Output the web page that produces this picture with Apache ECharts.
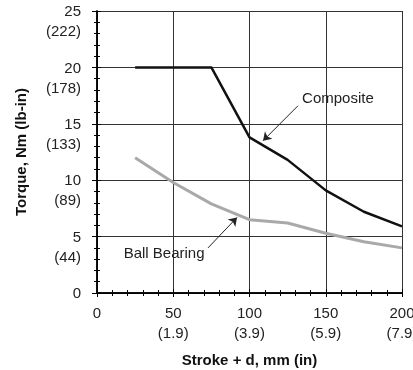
<!DOCTYPE html>
<html>
<head>
<meta charset="utf-8">
<script src="https://cdn.jsdelivr.net/npm/echarts@6/dist/echarts.min.js"></script>
<style>
  html, body { margin: 0; padding: 0; background: #fff; }
  #chart { width: 413px; height: 370px; }
</style>
</head>
<body>
<div id="chart"></div>
<script>
var strokeMm = [25, 50, 75, 100, 125, 150, 175, 200];
var composite = [20, 20, 20, 13.8, 11.8, 9.1, 7.2, 5.9];
var ballBearing = [12.0, 9.8, 7.9, 6.5, 6.2, 5.3, 4.55, 4.0];

var xTickMm = [0, 50, 100, 150, 200];
var xTickIn = ["", "(1.9)", "(3.9)", "(5.9)", "(7.9)"];
var yTickNm = [0, 5, 10, 15, 20, 25];
var yTickLbIn = ["", "(44)", "(89)", "(133)", "(178)", "(222)"];

var FONT = "Liberation Sans";

function pairs(xs, ys) {
    var out = [];
    for (var i = 0; i < xs.length; i++) out.push([xs[i], ys[i]]);
    return out;
}

function xLabel(v) {
    var i = xTickMm.indexOf(v);
    if (i < 0) return "";
    return xTickIn[i] ? v + "\n" + xTickIn[i] : String(v);
}

// first line sits on the tick, the inch value hangs below it
function yLabel(v) {
    var i = yTickNm.indexOf(v);
    if (i < 0) return "";
    return yTickLbIn[i] ? "{a|" + v + "}\n{b|" + yTickLbIn[i] + "}" : "{a|" + v + "}";
}

var chart = echarts.init(document.getElementById("chart"), null, { renderer: "canvas" });

var baseX = {
    type: "value", min: 0, max: 200, interval: 50,
    axisLine: { lineStyle: { color: "#000", width: 1.5 } },
    minorTick: { show: true, splitNumber: 5, length: 3, lineStyle: { color: "#000", width: 1 } },
    minorSplitLine: { show: false }
};
var baseY = {
    type: "value", min: 0, max: 25, interval: 5,
    axisLine: { lineStyle: { color: "#000", width: 1.5 } },
    minorTick: { show: true, splitNumber: 5, length: 3, lineStyle: { color: "#000", width: 1 } },
    minorSplitLine: { show: false }
};

var option = {
    animation: false,
    backgroundColor: "#fff",
    grid: { left: 97, right: 11, top: 11, bottom: 77, containLabel: false, outerBoundsMode: "none" },
    xAxis: [
        Object.assign({}, baseX, {
            name: "Stroke + d, mm (in)",
            nameLocation: "middle",
            nameGap: 60,
            nameTextStyle: { fontFamily: FONT, fontSize: 15, fontWeight: "bold", color: "#111" },
            axisTick: { show: true, length: 4, lineStyle: { color: "#000", width: 1 } },
            axisLabel: {
                formatter: xLabel, fontFamily: FONT, fontSize: 15, color: "#222",
                lineHeight: 20, margin: 11, showMaxLabel: true, showMinLabel: true
            },
            splitLine: { show: true, showMaxLine: true, lineStyle: { color: "#333", width: 1 } }
        }),
        Object.assign({}, baseX, {
            position: "bottom",
            axisTick: { show: true, inside: true, length: 4, lineStyle: { color: "#000", width: 1 } },
            axisLabel: { show: false },
            splitLine: { show: false }
        })
    ],
    yAxis: [
        Object.assign({}, baseY, {
            name: "Torque, Nm (lb-in)",
            nameLocation: "middle",
            nameGap: 68,
            nameTextStyle: { fontFamily: FONT, fontSize: 15, fontWeight: "bold", color: "#111" },
            axisTick: { show: true, length: 5, lineStyle: { color: "#000", width: 1 } },
            axisLabel: {
                formatter: yLabel, fontFamily: FONT, fontSize: 15, color: "#222",
                margin: 16, align: "right", verticalAlign: "top",
                showMaxLabel: true, showMinLabel: true,
                rich: {
                    a: { fontFamily: FONT, fontSize: 15, color: "#222", lineHeight: 2, align: "right" },
                    b: { fontFamily: FONT, fontSize: 15, color: "#222", lineHeight: 38, align: "right" }
                }
            },
            splitLine: { show: true, showMaxLine: true, lineStyle: { color: "#333", width: 1 } }
        }),
        Object.assign({}, baseY, {
            position: "left",
            axisTick: { show: true, inside: true, length: 4, lineStyle: { color: "#000", width: 1 } },
            axisLabel: { show: false },
            splitLine: { show: false }
        })
    ],
    series: [
        {
            name: "Ball Bearing",
            type: "line",
            data: pairs(strokeMm, ballBearing),
            showSymbol: false,
            lineStyle: { color: "#a9a9a9", width: 3 },
            z: 3,
            markLine: {
                silent: true,
                symbol: ["none", "arrow"],
                symbolSize: 8,
                label: { show: false },
                lineStyle: { color: "#222", width: 1, type: "solid" },
                data: [[{ coord: [72.8, 4.0] }, { coord: [91.8, 6.7] }]]
            },
            markPoint: {
                symbol: "circle", symbolSize: 0,
                label: { show: true, formatter: "Ball Bearing", fontFamily: FONT, fontSize: 15, color: "#222" },
                data: [{ coord: [44, 3.45] }]
            }
        },
        {
            name: "Composite",
            type: "line",
            data: pairs(strokeMm, composite),
            showSymbol: false,
            lineStyle: { color: "#111", width: 2.5 },
            z: 4,
            markLine: {
                silent: true,
                symbol: ["none", "arrow"],
                symbolSize: 8,
                label: { show: false },
                lineStyle: { color: "#222", width: 1, type: "solid" },
                data: [[{ coord: [131.8, 16.6] }, { coord: [108.9, 13.5] }]]
            },
            markPoint: {
                symbol: "circle", symbolSize: 0,
                label: { show: true, formatter: "Composite", fontFamily: FONT, fontSize: 15, color: "#222" },
                data: [{ coord: [158, 17.2] }]
            }
        }
    ]
};

chart.setOption(option);
</script>
</body>
</html>
